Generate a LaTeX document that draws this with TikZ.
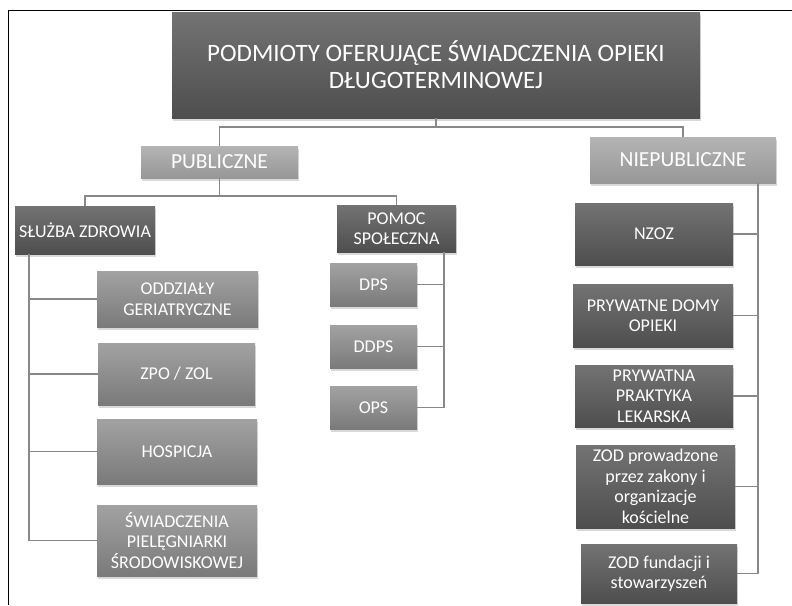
\documentclass[tikz,border=0pt]{standalone}
\usepackage{fontspec}
\setmainfont{Carlito}
\usetikzlibrary{shadows}
\definecolor{darktop}{HTML}{737373}
\definecolor{darkbot}{HTML}{4E4E4E}
\definecolor{midtop}{HTML}{A2A2A2}
\definecolor{midbot}{HTML}{7A7A7A}
\definecolor{lighttop}{HTML}{B4B4B4}
\definecolor{lightbot}{HTML}{979797}
\definecolor{linkgray}{HTML}{888888}
\tikzset{
	box/.style={rectangle,align=center,text=white,inner sep=0pt,drop shadow={opacity=0.3,shadow xshift=1pt,shadow yshift=-2.5pt}},
	dark/.style={box,top color=darktop,bottom color=darkbot},
	mid/.style={box,top color=midtop,bottom color=midbot},
	light/.style={box,top color=lighttop,bottom color=lightbot,font=\fontsize{21.5}{24}\selectfont},
	small/.style={font=\fontsize{18}{20.5}\selectfont},
	link/.style={draw=linkgray,line width=1.5pt}
}

\begin{document}
\begin{tikzpicture}[x=1pt,y=-1pt]
			\useasboundingbox (0,0) rectangle (792,605);
			\draw[line width=0.8pt] (8,605) -- (8,10) -- (792,10);
			
			\node[dark,minimum width=528pt,minimum height=106pt,font=\fontsize{25}{27}\selectfont] (top) at (436,65) {PODMIOTY OFERUJĄCE ŚWIADCZENIA OPIEKI\\DŁUGOTERMINOWEJ};
			\node[light,minimum width=157pt,minimum height=32pt] (publ) at (219.5,162) {PUBLICZNE};
			\node[light,minimum width=186pt,minimum height=46pt] (niepubl) at (683,160) {NIEPUBLICZNE};
			
			\node[dark,small,minimum width=140pt,minimum height=48pt] (sluzba) at (85,230) {SŁUŻBA ZDROWIA};
			\node[dark,small,minimum width=119pt,minimum height=47pt] (pomoc) at (396.5,228.5) {POMOC\\SPOŁECZNA};
			
			\node[mid,small,minimum width=161pt,minimum height=56pt] (oddz) at (177.5,299) {ODDZIAŁY\\GERIATRYCZNE};
			\node[mid,small,minimum width=157pt,minimum height=62pt] (zpo) at (176.5,374) {ZPO / ZOL};
			\node[mid,small,minimum width=160pt,minimum height=65pt] (hosp) at (177,451.5) {HOSPICJA};
			\node[mid,small,minimum width=160pt,minimum height=71pt] (swiad) at (177,540.5) {ŚWIADCZENIA\\PIELĘGNIARKI\\ŚRODOWISKOWEJ};
			
			\node[mid,small,minimum width=87pt,minimum height=43pt] (dps) at (373.5,284.5) {DPS};
			\node[mid,small,minimum width=87pt,minimum height=43pt] (ddps) at (373.5,346.5) {DDPS};
			\node[mid,small,minimum width=87pt,minimum height=43pt] (ops) at (373.5,407.5) {OPS};
			
			\node[dark,small,minimum width=158pt,minimum height=62pt] (nzoz) at (654,234) {NZOZ};
			\node[dark,small,minimum width=160pt,minimum height=63pt] (prdom) at (653,315.5) {PRYWATNE DOMY\\OPIEKI};
			\node[dark,small,minimum width=158pt,minimum height=62pt] (prprak) at (654,396) {PRYWATNA\\PRAKTYKA\\LEKARSKA};
			\node[dark,small,minimum width=159pt,minimum height=83pt] (zodzak) at (655.5,486.5) {ZOD prowadzone\\przez zakony i\\organizacje\\kościelne};
			\node[dark,small,minimum width=156pt,minimum height=59pt] (zodfund) at (659,573.5) {ZOD fundacji i\\stowarzyszeń};
			
			\coordinate (topsplit) at (436,127);
			\coordinate (pubsplit) at (219.5,196);
			\coordinate (szbus) at (29,254);
			\coordinate (pcbus) at (444,252);
			\coordinate (npbus) at (758,183);
			
			\draw[link] (top) -- (topsplit) -| (publ);
			\draw[link] (topsplit) -| (niepubl);
			\draw[link] (publ) -- (pubsplit) -| (sluzba);
			\draw[link] (pubsplit) -| (pomoc);
			\foreach \n in {oddz,zpo,hosp,swiad}
				\draw[link] (szbus) |- (\n);
			\foreach \n in {dps,ddps,ops}
				\draw[link] (pcbus) |- (\n);
			\foreach \n in {nzoz,prdom,prprak,zodzak,zodfund}
				\draw[link] (npbus) |- (\n);
		\end{tikzpicture}
\end{document}
